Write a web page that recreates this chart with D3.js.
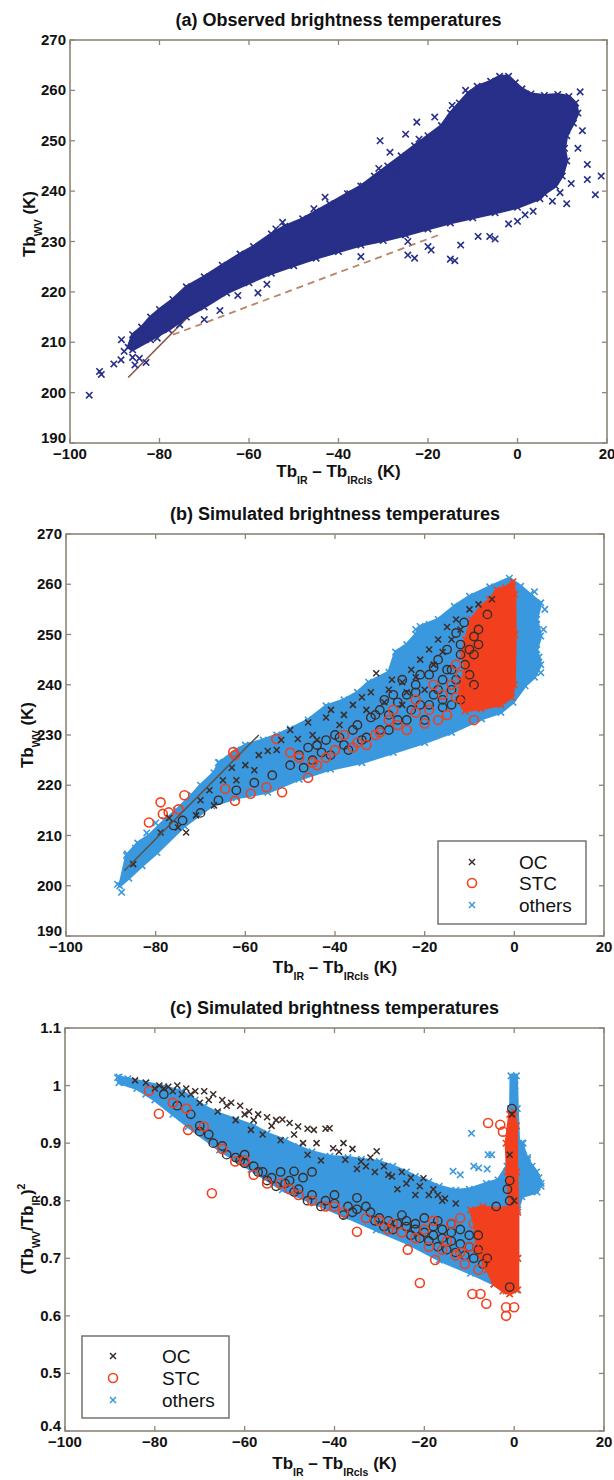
<!DOCTYPE html>
<html>
<head>
<meta charset="utf-8">
<script src="https://cdn.jsdelivr.net/npm/d3@7/dist/d3.min.js"></script>
<style>
  html, body { margin: 0; padding: 0; background: #ffffff; }
  svg { display: block; }
  text { font-family: "Liberation Sans", Arial, Helvetica, sans-serif; fill: #111; }
</style>
</head>
<body>
<svg id="fig" width="614" height="1480"></svg>
<script>
// ---------- axes ----------
const xTicks = [-100, -80, -60, -40, -20, 0, 20];
const tbTicks = [190, 200, 210, 220, 230, 240, 250, 260, 270];
const ratioTicks = [0.4, 0.5, 0.6, 0.7, 0.8, 0.9, 1.0, 1.1];
const titles = [
  "(a) Observed brightness temperatures",
  "(b) Simulated brightness temperatures",
  "(c) Simulated brightness temperatures"
];
const legendLabels = ["OC", "STC", "others"];

// ---------- (a) observed: dense core outline [dTb, TbWV] ----------
const obsCore = [
  [-87,209],[-86,211.5],[-84,213],[-82,215],[-80,216.5],[-77,218.5],[-74,221],[-70,223],
  [-66,225.3],[-62,227.5],[-59,229],[-55,231.5],[-52,233],[-48,234.5],[-45,236],[-42,237.5],
  [-38,239.5],[-35,241],[-32,243],[-29,245],[-26,247],[-23,249],[-20,251],[-17,253],
  [-15,255.5],[-13,257.5],[-11,259.5],[-9,260.8],[-6,261.8],[-4,262.8],[-2,262.8],[-0.5,261.5],
  [1,260.3],[3,259.3],[6,259],[9,259.2],[11.5,258.8],[13,257.5],[13.5,255.5],[12.5,253.5],
  [11,251],[10.5,248.5],[11,246],[10,243],[8.5,241],[6,239.5],[5,238.5],[0,236.8],
  [-5,235.7],[-10,234.7],[-15,233.7],[-20,232.5],[-25,231.3],[-30,230.2],[-35,229.3],[-40,228],
  [-45,226.7],[-50,225.2],[-55,223.7],[-60,221.8],[-65,219.8],[-70,217],[-74,215],[-78,212.5],
  [-82,210.5],[-86,208.5]
];
// (a) individual observations outside the core
const obsPoints = [
  [-95.7,199.5],[-93.4,204.2],[-93,203.6],[-90.2,205.7],[-88.6,206.5],[-87.9,208.2],[-88.5,210.5],
  [-86,207],[-85.5,205.5],[-84.5,206.8],[-83,206],[-84,211.5],[-80.5,210.8],[-78.5,213.5],
  [-75.5,213.5],[-70,214.5],[-66.5,216.3],[-62.5,219.3],[-58,219.8],[-56,221.5],[-52.5,233.8],
  [-54,232.5],[-50,229],[-45.5,236.5],[-43,238.8],[-40.3,237.5],[-37.5,239.5],[-35,227],
  [-34.5,241],[-31,244.5],[-30.7,250],[-28.5,247.7],[-27,244],[-25,251.3],[-24.5,230],
  [-24.5,227.3],[-23,226.7],[-22,250.3],[-22.5,253.7],[-20,229],[-19.3,228.3],[-18.5,254.7],
  [-17.2,251],[-15,226.5],[-14,226.2],[-14.6,257],[-12.7,229.3],[-11.6,260],[-8.8,231],
  [-6.2,231],[-5,230.5],[-2,233.5],[0,234],[1.7,235.3],[3.5,236],[7.8,238],[9.5,239.7],
  [11,237.5],[12,241.5],[14,259.7],[12.8,256.3],[15.6,245.3],[15.6,242.3],[17.4,239.3],
  [18.7,243],[14.5,252],[13.5,248.5]
];
const fitSolid = [[-87,203],[-57,230]];
const fitDashed = [[-77,211.5],[-17,231.5]];

// ---------- (b) simulated Tb ----------
const simOthersCore = [
  [-88,200],[-86.5,206],[-84,208.5],[-81.5,210],[-78,213],[-75.4,215],[-72,218],[-70,220],
  [-67,222.5],[-65.8,224.5],[-62,227],[-60,228],[-56,229],[-53,230],[-50,231.2],[-46,233],
  [-42,235.8],[-38,237],[-35,238.5],[-32.5,240.5],[-28,242.5],[-26.5,246.5],[-24,248],[-22,250],
  [-21,251.6],[-17,253],[-13.4,255.6],[-10,257.6],[-5.5,259.5],[-1.1,261.2],[1.4,259.6],[3.5,258],
  [5.9,256.3],[5,253],[5.9,249.7],[5,247],[5.9,244],[4.5,241.5],[2.4,239.8],[-0.3,236.5],
  [-3,234.5],[-7.3,233.2],[-14,230.5],[-20,228.5],[-27,226.5],[-34,224.5],[-41,223.2],[-48,221.2],
  [-55,218.6],[-62,217.5],[-67.5,215.9],[-73.6,211.9],[-79.7,206.6],[-83,204],[-86,201.5]
];
const simStcCore = [
  [-0.3,260.5],[-2,259.3],[-3.9,258.9],[-5.5,257],[-7.4,255.6],[-9.6,253],[-10.9,249],[-11.5,246],
  [-10.9,243],[-12,240],[-12.5,237],[-11,234.8],[-7.4,235.2],[-3,236],[-0.6,237.5],[0,240],
  [0.2,250],[0.1,258]
];
const simOthers = [
  [-88.5,200.3],[-87.6,198.7],[-86.3,206.3],[-84.5,207.5],[-82,210.5],[5.9,242.4],[5.5,245.5],
  [6.5,251],[6.8,255],[4.5,258.5],[-22,251],[-19,252],[-26,246],[-45,233],[-53,229.5],
  [-66,224.5],[-80,212.5]
];
const simOC = [
  [-85,204.3],[-78.9,210.6],[-75,211.6],[-73.2,210.6],[-71,214],[-68,219],[-65,221],[-63,223.5],
  [-60,224],[-57,226],[-55,226.8],[-52,229],[-48.3,229.2],[-50,231],[-46,232.5],[-45,230],
  [-42,233.5],[-40.9,235],[-38,234],[-36,236],[-34,237.5],[-32,238.5],[-30.8,242.3],[-27.3,241],
  [-28,239],[-25,240.5],[-23,243],[-21,245],[-19,247],[-17,249],[-15,251.5],[-13,253],[-10,255],
  [-8,256],[-5,257],[-25,236],[-20,239],[-44,229],[-70,217],[-77,213.5],[-67,216],
  [-39,232],[-33,235],[-29,236.5],[-24,238.5],[-22,241.5],[-18,244],[-16,246.5],[-14,249],
  [-12,251],[-62,221],[-58,223],[-53,227]
];
const simSTC = [
  [-81.5,212.6],[-78.9,216.6],[-78.4,214.3],[-77.1,214.6],[-74.9,215.2],[-73.6,218],[-62.7,226.6],
  [-62.3,226],[-53.1,229.2],[-64.5,219.3],[-62.3,216.9],[-58.8,218.3],[-55.3,219.6],[-51.8,218.6],
  [-48,225.5],[-44,224],[-40,227],[-35,228.5],[-30,230.5],[-26,232],[-20,232.3],[-15,234],
  [-9,233],[-22,237],[-18,240],[-13,244],[-27,235],[-38,230],[-50,226.5],[-46,221.5],
  [-45,224.5],[-42,225.5],[-36,227.5],[-33,228],[-31,230],[-28,233],[-24,231],[-22,234.5],
  [-19,235],[-17,233],[-16,238],[-14,240],[-13,237.5],[-12,242],[-11,236],[-10,238.5]
];
const simSTCdark = [
  [-28,234],[-26,236.5],[-24,238],[-22,240],[-21,236],[-19,242],[-18,238],[-17,245],[-16,241],
  [-15,247],[-14,243],[-13,250.3],[-12,246],[-11.2,252.4],[-9,249.6],[-20,233],[-16,235.5],
  [-30,231],[-33,229.5],[-37,227],[-41,226],[-45,225],[-50,224],[-54,222],[-58,220.5],[-62,219],
  [-66,217],[-70,214.5],[-74,213],[-76,212],[-44,228],[-36,231],[-29,237],[-24,233],[-12,237],
  [-14,239],[-25,241],[-8,251],[-6,254],[-31,234],[-39,229.5],[-47,223.5],
  [-48,226],[-46,227.5],[-43,226.5],[-42,229],[-40,230],[-38,228],[-35,232],[-34,229],
  [-32,233.5],[-30,235],[-28,231],[-27,238],[-26,233],[-23,235],[-22,238.5],[-21,242],
  [-19,236],[-18,243.5],[-17,239],[-16,237],[-15,243],[-14,236],[-13,241],[-12,248],
  [-11,244],[-10,247],[-10,242],[-9,246],[-9,240],[-8,248]
];
const simFit = [[-87,203],[-57,230]];

// ---------- (c) simulated ratio (TbWV/TbIR)^2 ----------
const ratioOthersCore = [
  [-88,1.015],[-86,1.012],[-82,1.005],[-78,0.998],[-74,0.99],[-71,0.975],[-69,0.964],[-66,0.952],
  [-62,0.941],[-58,0.93],[-55,0.917],[-51,0.905],[-48,0.894],[-45,0.885],[-41,0.877],[-37,0.875],
  [-34,0.872],[-30,0.868],[-27,0.86],[-24,0.85],[-22,0.842],[-19,0.833],[-16.7,0.825],[-13,0.818],
  [-10,0.82],[-6.2,0.83],[-3.6,0.836],[-1.6,0.86],[-1.2,0.9],[-0.8,0.96],[-0.7,1.017],[0.5,1.017],
  [0.7,0.96],[1,0.9],[1.7,0.9],[3,0.871],[5,0.85],[6,0.83],[5.1,0.815],[1.7,0.807],[0.8,0.784],
  [0.8,0.7],[0.5,0.645],[-1.8,0.643],[-4.5,0.655],[-9.7,0.674],[-16.7,0.697],[-23.7,0.726],
  [-30.7,0.749],[-37.6,0.773],[-44.6,0.796],[-51.6,0.819],[-58.6,0.854],[-65.6,0.888],
  [-72.6,0.929],[-76,0.95],[-80,0.975],[-84,0.995],[-88,1.005]
];
const ratioStcCore = [
  [-9.7,0.784],[-8.5,0.75],[-8.4,0.714],[-6,0.68],[-4.5,0.655],[-2.5,0.643],[-1,0.638],[0.8,0.645],
  [0.8,0.7],[0.8,0.78],[0.6,0.85],[0.5,0.93],[0,0.955],[-1,0.95],[-1.8,0.9],[-1.5,0.85],
  [-1,0.79],[-4,0.785],[-7,0.79]
];
const ratioOthers = [
  [-88.3,1.014],[-86.6,1.006],[-84,1.0],[-82,0.985],[-78,0.975],[-76,0.96],[-74,0.945],
  [-9,0.86],[-6,0.855],[-12,0.845],[-5,0.88],[6,0.825],[5.5,0.84],[4,0.86],[3,0.875],[2,0.9],
  [-0.1,1.015],[-0.1,0.99],[0.2,1.0],[-9.5,0.917],[-13.6,0.851],[-7.9,0.857],[-5.8,0.88]
];
const ratioOC = [
  [-84.4,1.009],[-82,1.005],[-79,1.0],[-77,0.998],[-75,1.0],[-73,0.995],[-71,0.99],[-69,0.99],
  [-67,0.985],[-65,0.975],[-63,0.97],[-61,0.965],[-59,0.955],[-58.6,0.923],[-57,0.95],[-55,0.945],
  [-53,0.94],[-51.6,0.941],[-50,0.935],[-48.1,0.929],[-46,0.925],[-44.6,0.923],[-42,0.925],
  [-41.1,0.926],[-40.3,0.891],[-38,0.9],[-37.6,0.871],[-36,0.89],[-34.1,0.868],[-32,0.875],
  [-30.6,0.886],[-29,0.86],[-27.2,0.842],[-25,0.85],[-23,0.84],[-20.2,0.839],[-18,0.82],
  [-15.4,0.804],[-17,0.81],[-22,0.81],[-26,0.82],[-31,0.85],[-35,0.855],[-43,0.87],[-46,0.88],
  [-52,0.905],[-56,0.915],[-62,0.94],[-66,0.955],[-70,0.97],[-74,0.985],[-76,0.99],[-80,0.995],
  [-0.5,0.95],[0,0.8],[-1,0.88],
  [-78,0.995],[-72,0.985],[-68,0.975],[-64,0.965],[-60,0.95],[-58,0.94],[-54,0.93],[-49,0.915],
  [-47,0.9],[-44,0.9],[-39,0.885],[-33,0.86],[-28,0.845],[-24,0.83],[-21,0.825],[-19,0.81],
  [-16,0.8],[-13,0.795]
];
const ratioSTC = [
  [-81.3,0.991],[-79.1,0.951],[-76,0.97],[-73,0.96],[-72.6,0.923],[-69.1,0.929],[-67.3,0.813],
  [-62.1,0.868],[-58,0.845],[-55,0.83],[-50,0.82],[-45,0.8],[-40,0.79],[-35,0.746],[-30,0.765],
  [-27,0.76],[-23.7,0.715],[-21,0.657],[-17.6,0.697],[-15,0.73],[-12,0.71],[-9.3,0.638],
  [-7.5,0.638],[-6.2,0.621],[-1.8,0.615],[-1.8,0.6],[0,0.615],[-5.8,0.935],[-3.1,0.932],
  [-2.5,0.92],[-20,0.75],[-10,0.72],[-6,0.69],[-12,0.77],[-3,0.66],
  [-65,0.89],[-60,0.87],[-52,0.83],[-48,0.81],[-42,0.79],[-38,0.78],[-33,0.77],[-28,0.75],
  [-25,0.745],[-22,0.735],[-19,0.72],[-16,0.715],[-13,0.705],[-11,0.69],[-8,0.68],[-14,0.76],
  [-18,0.765],[-9,0.76],[-7,0.72]
];
const ratioSTCdark = [
  [-78,0.985],[-75,0.965],[-72,0.95],[-70,0.93],[-68,0.915],[-65,0.895],[-62,0.875],[-60,0.865],
  [-58,0.86],[-56,0.85],[-54,0.84],[-51,0.83],[-48,0.82],[-45,0.81],[-42,0.8],[-40,0.795],
  [-37,0.79],[-35,0.785],[-32,0.78],[-30,0.77],[-28,0.765],[-26,0.76],[-24,0.755],[-22,0.75],
  [-20,0.745],[-18,0.74],[-16,0.735],[-14,0.73],[-12,0.725],[-10,0.72],[-8,0.715],[-6,0.7],
  [-20,0.77],[-17,0.765],[-14,0.76],[-12,0.75],[-25,0.775],[-35,0.805],[-40,0.81],[-33,0.79],
  [-47,0.84],[-52,0.85],[-50,0.835],[-1.5,0.82],[-1,0.835],[-0.5,0.96],[-4,0.79],[-8,0.74],
  [-1,0.65],[-45,0.85],[-60,0.88],[-49,0.851],[-1,0.8],
  [-70,0.92],[-67,0.9],[-64,0.88],[-61,0.87],[-57,0.85],[-55,0.835],[-53,0.825],[-49,0.815],
  [-46,0.8],[-43,0.79],[-38,0.775],[-36,0.78],[-31,0.765],[-29,0.755],[-27,0.75],[-23,0.74],
  [-21,0.735],[-19,0.73],[-17,0.72],[-15,0.715],[-13,0.71],[-11,0.705],[-9,0.7],[-7,0.69],
  [-24,0.765],[-22,0.76],[-18,0.755],[-16,0.75],[-10,0.74],[-14,0.745]
];

// ---------- styling ----------
const C = {
  navy: "#272f88",
  blue: "#3a98de",
  red: "#f2401f",
  dark: "#3b2c28",
  frame: "#8d8678",
  fitSolid: "#86574a",
  fitDashed: "#b98365",
  simFit: "#5a514c"
};

const svg = d3.select("#fig");

function richText(g, x, y, parts, opts) {
  const t = g.append("text")
    .attr("x", x).attr("y", y)
    .attr("text-anchor", opts.anchor || "middle")
    .attr("font-size", opts.size)
    .attr("font-weight", opts.weight || "bold");
  if (opts.rotate) t.attr("transform", `rotate(-90,${x},${y})`);
  let shift = 0;
  parts.forEach(p => {
    const s = t.append("tspan").text(p.t);
    let target = 0;
    if (p.sub) { target = opts.size * 0.42; s.attr("font-size", opts.size * 0.62); }
    if (p.sup) { target = -opts.size * 0.45; s.attr("font-size", opts.size * 0.62); }
    s.attr("dy", target - shift);
    shift = target;
  });
  return t;
}

const xLabelParts = [{t:"Tb"},{t:"IR",sub:true},{t:" \u2013 Tb"},{t:"IRcls",sub:true},{t:" (K)"}];
const tbLabelParts = [{t:"Tb"},{t:"WV",sub:true},{t:" (K)"}];
const ratioLabelParts = [{t:"(Tb"},{t:"WV",sub:true},{t:"/Tb"},{t:"IR",sub:true},{t:")"},{t:"2",sup:true}];

function panel(cfg) {
  const { left, right, top, bottom } = cfg;
  const x = d3.scaleLinear().domain([-100, 20]).range([left, right]);
  const y = d3.scaleLinear().domain(cfg.yDomain).range([bottom, top]);
  const g = svg.append("g");

  // title
  g.append("text").attr("x", (left + right) / 2).attr("y", top - 14)
    .attr("text-anchor", "middle").attr("font-size", 18).attr("font-weight", "bold")
    .text(cfg.title);

  const plot = g.append("g");
  const clipId = "clip" + cfg.id;
  svg.append("clipPath").attr("id", clipId).append("rect")
    .attr("x", left).attr("y", top).attr("width", right - left).attr("height", bottom - top);
  plot.attr("clip-path", `url(#${clipId})`);

  const line = d3.line().x(d => x(d[0])).y(d => y(d[1]));
  const area = d3.line().x(d => x(d[0])).y(d => y(d[1])).curve(d3.curveLinearClosed);

  const cross = (sel, data, color, s, w) => sel.selectAll(null).data(data).enter().append("path")
    .attr("d", d => `M${x(d[0]) - s},${y(d[1]) - s}L${x(d[0]) + s},${y(d[1]) + s}M${x(d[0]) - s},${y(d[1]) + s}L${x(d[0]) + s},${y(d[1]) - s}`)
    .attr("stroke", color).attr("stroke-width", w).attr("fill", "none");
  const ring = (sel, data, color, r, w) => sel.selectAll(null).data(data).enter().append("circle")
    .attr("cx", d => x(d[0])).attr("cy", d => y(d[1])).attr("r", r)
    .attr("stroke", color).attr("stroke-width", w).attr("fill", "none");
  const blob = (data, color) => {
    plot.append("path").attr("d", area(data)).attr("fill", color)
      .attr("stroke", color).attr("stroke-width", 3).attr("stroke-linejoin", "round");
    cross(plot, data, color, 3.2, 1.6);
  };
  const fit = (data, color, dash, w) => plot.append("path").attr("d", line(data))
    .attr("fill", "none").attr("stroke", color).attr("stroke-width", w)
    .attr("stroke-dasharray", dash || null);

  cfg.draw({ plot, x, y, cross, ring, blob, fit });

  // frame and ticks (inward on all sides)
  const fr = g.append("g").attr("stroke", C.frame).attr("fill", "none");
  fr.append("rect").attr("x", left).attr("y", top).attr("width", right - left).attr("height", bottom - top)
    .attr("stroke-width", 1.6);
  const tl = 5;
  xTicks.forEach(v => {
    fr.append("line").attr("x1", x(v)).attr("x2", x(v)).attr("y1", bottom).attr("y2", bottom - tl).attr("stroke-width", 1.3);
    fr.append("line").attr("x1", x(v)).attr("x2", x(v)).attr("y1", top).attr("y2", top + tl).attr("stroke-width", 1.3);
  });
  cfg.yTicks.forEach(v => {
    fr.append("line").attr("x1", left).attr("x2", left + tl).attr("y1", y(v)).attr("y2", y(v)).attr("stroke-width", 1.3);
    fr.append("line").attr("x1", right).attr("x2", right - tl).attr("y1", y(v)).attr("y2", y(v)).attr("stroke-width", 1.3);
  });

  // tick labels (the lowest y label sits a little higher, clear of the x labels)
  g.selectAll(null).data(xTicks).enter().append("text")
    .attr("x", d => x(d)).attr("y", bottom + 16).attr("text-anchor", "middle")
    .attr("font-size", 15).attr("font-weight", "bold")
    .text(d => d < 0 ? "\u2212" + Math.abs(d) : String(d));
  const y0 = cfg.yTicks[0];
  g.selectAll(null).data(cfg.yTicks).enter().append("text")
    .attr("x", left - 4).attr("y", d => y(d) + (d === y0 ? 0 : 5)).attr("text-anchor", "end")
    .attr("font-size", 15).attr("font-weight", "bold")
    .text(cfg.yFormat);

  // axis labels
  richText(g, (left + right) / 2, cfg.xLabelY, xLabelParts, { size: 17 });
  richText(g, cfg.yLabelX, cfg.yLabelY, cfg.yLabelParts, { size: 17, rotate: true });

  // legend
  if (cfg.legend) {
    const L = cfg.legend;
    g.append("rect").attr("x", L.x0).attr("y", L.y0).attr("width", L.x1 - L.x0).attr("height", L.y1 - L.y0)
      .attr("fill", "#fff").attr("stroke", "#6e6a63").attr("stroke-width", 1.4);
    const kinds = [
      { label: legendLabels[0], type: "x", color: C.dark },
      { label: legendLabels[1], type: "o", color: C.red },
      { label: legendLabels[2], type: "x", color: C.blue }
    ];
    kinds.forEach((k, i) => {
      const cy = L.rows[i];
      if (k.type === "x") {
        const s = 3;
        g.append("path").attr("d", `M${L.sx - s},${cy - s}L${L.sx + s},${cy + s}M${L.sx - s},${cy + s}L${L.sx + s},${cy - s}`)
          .attr("stroke", k.color).attr("stroke-width", 1.5);
      } else {
        g.append("circle").attr("cx", L.sx).attr("cy", cy).attr("r", 4.5)
          .attr("fill", "none").attr("stroke", k.color).attr("stroke-width", 1.6);
      }
      g.append("text").attr("x", L.tx).attr("y", cy + 7).attr("font-size", 19).attr("font-weight", "normal")
        .text(k.label);
    });
  }
}

const tbFormat = d => String(d);
const ratioFormat = d => String(Math.round(d * 10) / 10);

// (a)
panel({
  id: "a", left: 70, right: 607, top: 40, bottom: 443,
  yDomain: [190, 270], yTicks: tbTicks, yFormat: tbFormat, title: titles[0],
  xLabelY: 477, yLabelX: 35, yLabelY: 224, yLabelParts: tbLabelParts,
  draw: ({ cross, blob, fit, plot }) => {
    fit(fitSolid, C.fitSolid, null, 1.6);
    fit(fitDashed, C.fitDashed, "7,5", 1.8);
    blob(obsCore, C.navy);
    cross(plot, obsPoints, C.navy, 3.2, 1.6);
  }
});

// (b)
panel({
  id: "b", left: 66, right: 604, top: 534, bottom: 936,
  yDomain: [190, 270], yTicks: tbTicks, yFormat: tbFormat, title: titles[1],
  xLabelY: 973, yLabelX: 33, yLabelY: 735, yLabelParts: tbLabelParts,
  legend: { x0: 438, x1: 586, y0: 841, y1: 924, rows: [862, 883, 905], sx: 472, tx: 519 },
  draw: ({ cross, ring, blob, fit, plot }) => {
    blob(simOthersCore, C.blue);
    cross(plot, simOthers, C.blue, 3.2, 1.6);
    blob(simStcCore, C.red);
    ring(plot, simSTCdark, C.dark, 4.2, 1.4);
    ring(plot, simSTC, C.red, 4.5, 1.6);
    cross(plot, simOC, C.dark, 3, 1.5);
    fit(simFit, C.simFit, null, 1.5);
  }
});

// (c)
panel({
  id: "c", left: 65, right: 604, top: 1028, bottom: 1431,
  yDomain: [0.4, 1.1], yTicks: ratioTicks, yFormat: ratioFormat, title: titles[2],
  xLabelY: 1469, yLabelX: 33, yLabelY: 1229, yLabelParts: ratioLabelParts,
  legend: { x0: 82, x1: 229, y0: 1336, y1: 1418, rows: [1356, 1378, 1400], sx: 113, tx: 162 },
  draw: ({ cross, ring, blob, plot }) => {
    blob(ratioOthersCore, C.blue);
    cross(plot, ratioOthers, C.blue, 3.2, 1.6);
    blob(ratioStcCore, C.red);
    ring(plot, ratioSTCdark, C.dark, 4.2, 1.4);
    ring(plot, ratioSTC, C.red, 4.5, 1.6);
    cross(plot, ratioOC, C.dark, 3, 1.5);
  }
});
</script>
</body>
</html>
